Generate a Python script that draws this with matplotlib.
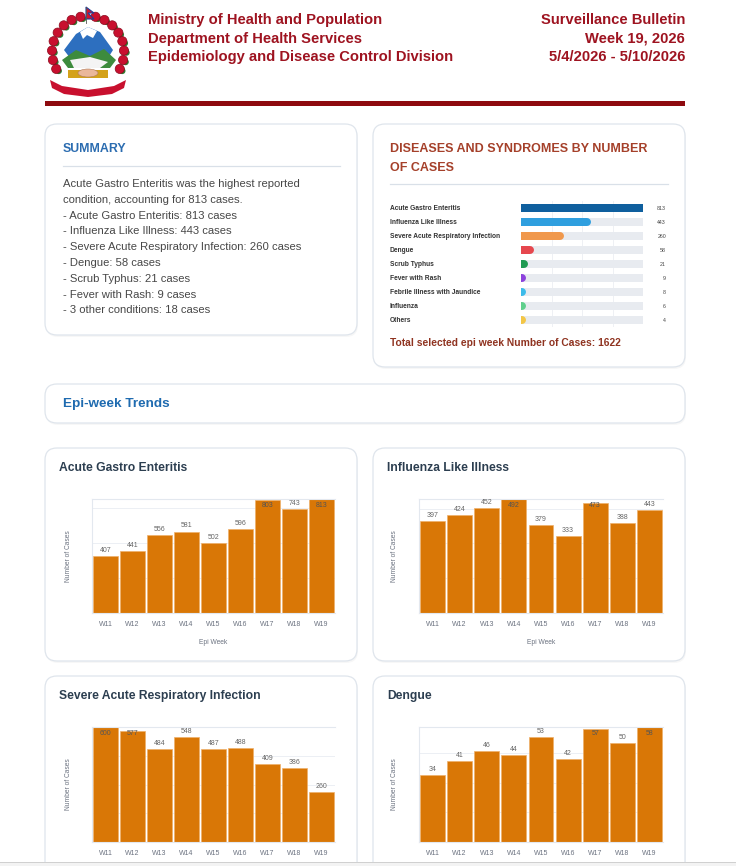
import numpy as np
import matplotlib
matplotlib.use("Agg")
import matplotlib.pyplot as plt
from matplotlib.patches import FancyBboxPatch, Circle, Polygon, Rectangle, Ellipse
from matplotlib import transforms
from matplotlib.ticker import MaxNLocator

plt.rcParams['font.family'] = ['Liberation Sans', 'DejaVu Sans']

# ---- data ----
DISEASES = ["Acute Gastro Enteritis", "Influenza Like Illness", "Severe Acute Respiratory Infection",
            "Dengue", "Scrub Typhus", "Fever with Rash", "Febrile Illness with Jaundice",
            "Influenza", "Others"]
CASES = [813, 443, 260, 58, 21, 9, 8, 6, 4]
DISEASE_COLORS = ["#0f5f9e", "#2f9fdf", "#f0984c", "#e6474e", "#1f9a52",
                  "#8c42dc", "#3cbbea", "#5fcf8c", "#f3c646"]

WEEKS = ["W11", "W12", "W13", "W14", "W15", "W16", "W17", "W18", "W19"]
AGE = [407, 441, 556, 581, 502, 596, 803, 743, 813]
ILI = [397, 424, 452, 492, 379, 333, 473, 388, 443]
SARI = [600, 577, 484, 548, 487, 488, 409, 386, 260]
DENGUE = [34, 41, 46, 44, 53, 42, 57, 50, 58]

W, H = 736, 866
RED = "#9e1320"
RUST = "#a5402a"
BLUE = "#2b6cb0"
NAVY = "#2c3e50"
BAR = "#d97706"

fig = plt.figure(figsize=(W / 100, H / 100), dpi=100)
page = fig.add_axes([0, 0, 1, 1])
page.set_xlim(0, W)
page.set_ylim(H, 0)
page.axis('off')


def px_rect(x0, y0, x1, y1):
    return [x0 / W, 1 - y1 / H, (x1 - x0) / W, (y1 - y0) / H]


def card(x0, y0, x1, y1):
    page.add_patch(FancyBboxPatch((x0 + 1, y0 + 2), x1 - x0, y1 - y0,
                                  boxstyle="round,pad=0,rounding_size=12",
                                  fc="#000000", alpha=0.03, ec="none", zorder=1))
    page.add_patch(FancyBboxPatch((x0, y0), x1 - x0, y1 - y0,
                                  boxstyle="round,pad=0,rounding_size=12",
                                  fc="white", ec="#dfe5ec", lw=0.9, zorder=2))


# ---- emblem (simplified) ----
cx, cy = 88, 52
page.add_patch(Polygon([(64, 50), (76, 34), (88, 27), (100, 32), (113, 50), (108, 58), (70, 58)],
                       closed=True, fc="#2d6fbf", ec="none", zorder=3))
page.add_patch(Polygon([(80, 32), (88, 27), (97, 31), (93, 38), (87, 35), (83, 39)],
                       closed=True, fc="white", ec="none", zorder=4))
page.add_patch(Polygon([(62, 60), (76, 50), (90, 56), (104, 49), (116, 60), (110, 68), (68, 68)],
                       closed=True, fc="#3d8b3d", ec="none", zorder=4))
page.add_patch(Polygon([(70, 60), (90, 57), (108, 62), (100, 68), (74, 68)],
                       closed=True, fc="#f4f4f4", ec="none", zorder=5))
page.add_patch(Rectangle((68, 70), 40, 8, fc="#d4a21a", ec="none", zorder=5))
page.add_patch(Ellipse((88, 73), 20, 8, fc="#eab79a", ec="#b07a5a", lw=0.4, zorder=6))
for t in np.concatenate([np.linspace(-28, 78, 8), np.linspace(102, 208, 8)]):
    a = np.radians(t)
    fx, fy = cx + 36 * np.cos(a), cy - 36 * np.sin(a)
    page.add_patch(Circle((fx + 2.5, fy + 2), 3.2, fc="#2f7d32", ec="none", zorder=5))
    page.add_patch(Circle((fx, fy), 4.6, fc="#c8102e", ec="#8a0b1f", lw=0.5, zorder=6))
page.add_patch(Polygon([(86, 7), (94, 13), (88, 13), (94, 19), (86, 19)],
                       closed=True, fc="#d0142c", ec="#1f3f9a", lw=0.8, zorder=6))
page.plot([86, 86], [7, 23], color="#555", lw=0.6, zorder=6)
page.add_patch(Polygon([(50, 80), (62, 86), (88, 90), (114, 86), (126, 80),
                        (124, 88), (112, 94), (88, 97), (64, 94), (52, 88)],
                       closed=True, fc="#c8102e", ec="none", zorder=6))

# ---- header ----
left_lines = ["Ministry of Health and Population", "Department of Health Services",
              "Epidemiology and Disease Control Division"]
right_lines = ["Surveillance Bulletin", "Week 19, 2026", "5/4/2026 - 5/10/2026"]
for i, (l, r) in enumerate(zip(left_lines, right_lines)):
    y = 20 + 18.5 * i
    page.text(148, y, l, fontsize=10.6, fontweight='bold', color=RED, va='center', ha='left')
    page.text(685, y, r, fontsize=10.6, fontweight='bold', color=RED, va='center', ha='right')
page.add_patch(Rectangle((45, 101), 640, 5, fc="#8e0a0f", ec="none", zorder=3))

# ---- summary card ----
card(45, 124, 357, 335)
page.text(63, 149, "SUMMARY", fontsize=8.9, fontweight='bold', color=BLUE, va='center', zorder=3)
page.plot([63, 340], [166, 166], color="#d9e0e8", lw=0.9, zorder=3)
top = DISEASES[int(np.argmax(CASES))]
summary = [f"{top} was the highest reported",
           f"condition, accounting for {max(CASES)} cases."]
summary += [f"- {d}: {c} cases" for d, c in zip(DISEASES[:6], CASES[:6])]
summary.append(f"- {len(CASES) - 6} other conditions: {sum(CASES[6:])} cases")
for i, s in enumerate(summary):
    page.text(63, 184 + 15.8 * i, s, fontsize=8.1, color="#474747", va='center', zorder=3)

# ---- diseases card ----
card(373, 124, 685, 367)
page.text(390, 149, "DISEASES AND SYNDROMES BY NUMBER", fontsize=9, fontweight='bold',
          color=RUST, va='center', zorder=3)
page.text(390, 168, "OF CASES", fontsize=9, fontweight='bold', color=RUST, va='center', zorder=3)
page.plot([390, 668], [184, 184], color="#d9e0e8", lw=0.9, zorder=3)

dax = fig.add_axes(px_rect(521, 201, 643, 327))
dax.set_xlim(0, max(CASES))
dax.set_ylim(len(CASES) - 0.5, -0.5)
dax.axis('off')
rows = np.arange(len(CASES))
for q in [0.25, 0.5, 0.75]:
    dax.axvline(q * max(CASES), color="#eef0f4", lw=0.7, zorder=0)
lw_pt = 8 * 0.72
dax.hlines(rows, 0, max(CASES), colors="#e8ebf0", lw=lw_pt, capstyle='round', zorder=1)
for r, v, c in zip(rows, CASES, DISEASE_COLORS):
    dax.plot([0, v], [r, r], color=c, lw=lw_pt, solid_capstyle='round', zorder=2)
blend = transforms.blended_transform_factory(page.transData, dax.transData)
for r, d, v in zip(rows, DISEASES, CASES):
    dax.text(390, r, d, transform=blend, fontsize=4.8, fontweight='bold', color="#333",
             va='center', ha='left')
    dax.text(666, r, str(v), transform=blend, fontsize=3.8, color="#444",
             va='center', ha='right')
page.text(390, 343, f"Total selected epi week Number of Cases: {sum(CASES)}", fontsize=7.4,
          fontweight='bold', color="#8f3320", va='center', zorder=3)

# ---- epi-week trends ----
card(45, 384, 685, 423)
page.text(63, 404, "Epi-week Trends", fontsize=9.7, fontweight='bold', color="#1f6bb0",
          va='center', zorder=3)


def epi_chart(card_box, plot_box, title, values, xlabel=True):
    card(*card_box)
    page.text(card_box[0] + 14, card_box[1] + 20, title, fontsize=8.7, fontweight='bold',
              color=NAVY, va='center', zorder=3)
    ax = fig.add_axes(px_rect(*plot_box))
    ax.set_facecolor('none')
    x = np.arange(len(WEEKS))
    ax.bar(x, values, width=0.92, color=BAR, edgecolor="#efb06a", linewidth=0.5, zorder=2)
    ymax = max(values)
    ax.set_xlim(-0.5, len(WEEKS) - 0.5)
    ax.set_ylim(0, ymax)
    ax.yaxis.set_major_locator(MaxNLocator(4))
    ax.grid(axis='y', color="#eceff4", lw=0.7, zorder=0)
    ax.tick_params(axis='y', left=False, labelleft=False)
    ax.set_xticks(x, WEEKS)
    ax.tick_params(axis='x', length=0, pad=6, labelsize=5, labelcolor="#6b7280")
    for s in ['left', 'top', 'bottom']:
        ax.spines[s].set_color("#e3e8ef")
        ax.spines[s].set_linewidth(0.8)
    ax.spines['right'].set_visible(False)
    for xi, v in zip(x, values):
        if v > 0.95 * ymax:
            ax.annotate(str(v), (xi, ymax), xytext=(0, -2), textcoords='offset points',
                        ha='center', va='top', fontsize=5, color="#555", zorder=3)
        else:
            ax.annotate(str(v), (xi, v), xytext=(0, 1.5), textcoords='offset points',
                        ha='center', va='bottom', fontsize=5, color="#666", zorder=3)
    mid_y = (plot_box[1] + plot_box[3]) / 2
    page.text(plot_box[0] - 24, mid_y, "Number of Cases", rotation=90, fontsize=4.8,
              color="#6b7280", va='center', ha='center', zorder=3)
    if xlabel:
        page.text((plot_box[0] + plot_box[2]) / 2, plot_box[3] + 29, "Epi Week", fontsize=4.8,
                  color="#6b7280", va='center', ha='center', zorder=3)
    return ax


epi_chart((45, 448, 357, 661), (92, 499, 335, 613), "Acute Gastro Enteritis", AGE)
epi_chart((373, 448, 685, 661), (419, 499, 663, 613), "Influenza Like Illness", ILI)
# bottom row runs past the page edge, its x-axis titles fall outside the picture
epi_chart((45, 676, 357, 900), (92, 727, 335, 842), "Severe Acute Respiratory Infection", SARI,
          xlabel=False)
epi_chart((373, 676, 685, 900), (419, 727, 663, 842), "Dengue", DENGUE, xlabel=False)

# bottom page edge
edge = fig.add_axes([0, 0, 1, 4 / H])
edge.set_xlim(0, 1)
edge.set_ylim(0, 1)
edge.axis('off')
edge.add_patch(Rectangle((0, 0), 1, 1, fc="#f3f3f3", ec="none"))
edge.axhline(1, color="#c9c9c9", lw=1.2)

fig.savefig("out.png", dpi=100)
